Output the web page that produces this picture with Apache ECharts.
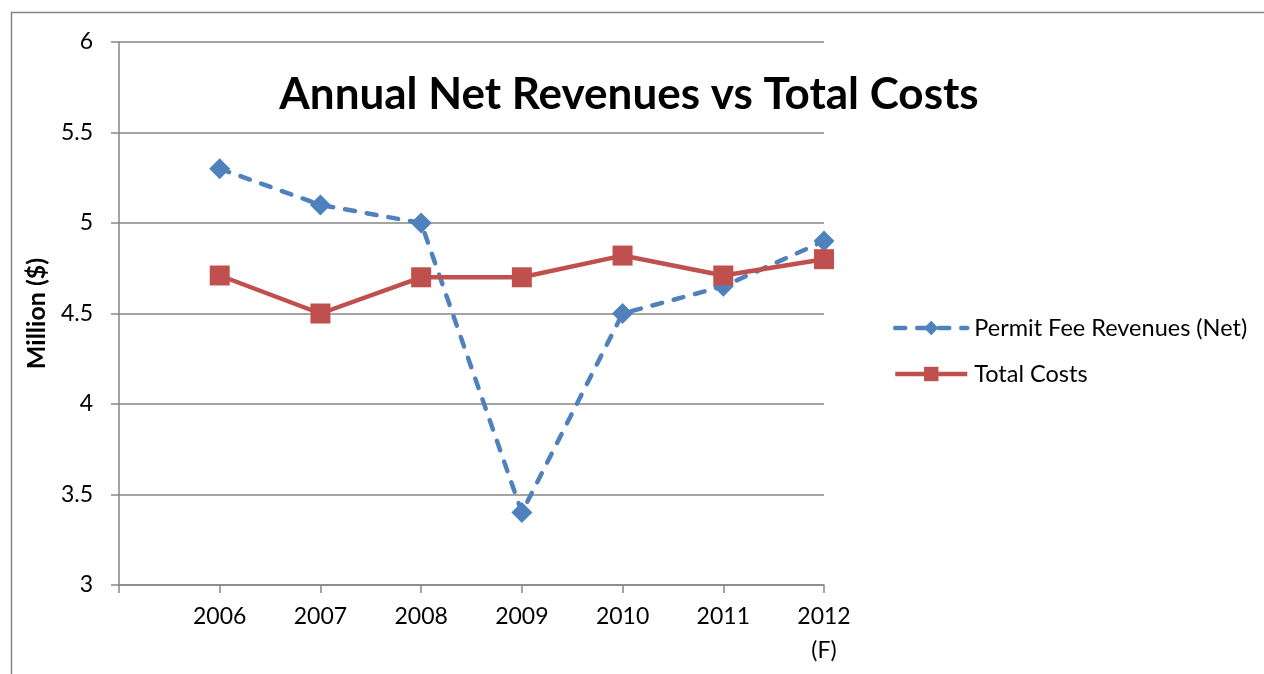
<!DOCTYPE html>
<html><head><meta charset="utf-8">
<script src="https://cdn.jsdelivr.net/npm/echarts@6/dist/echarts.min.js"></script>
<style>html,body{margin:0;padding:0;background:#fff}#c{width:1264px;height:674px}</style>
</head><body><div id="c"></div>
<script>
const categories = ['', '2006', '2007', '2008', '2009', '2010', '2011', '2012\n(F)'];
const permitFeeRevenues = [null, 5.3, 5.1, 5.0, 3.4, 4.5, 4.65, 4.9];
const totalCosts = [null, 4.71, 4.5, 4.7, 4.7, 4.82, 4.71, 4.8];
const yTicks = { min: 3, max: 6, interval: 0.5 };

const font = 'Lato, "Open Sans", sans-serif';
const chart = echarts.init(document.getElementById('c'));
chart.setOption({
  animation: false,
  textStyle: { fontFamily: font },
  title: {
    text: 'Annual Net Revenues vs Total Costs',
    left: 624, top: 68, textAlign: 'center',
    textStyle: { fontFamily: font, fontSize: 44, fontWeight: 'bold', color: '#000' }
  },
  graphic: [{
    type: 'rect', silent: true, z: -1,
    shape: { x: 11.5, y: 12.5, width: 1400, height: 800 },
    style: { fill: 'none', stroke: '#868686', lineWidth: 1.5 }
  }],
  legend: {
    orient: 'vertical', left: 888, top: 311, itemGap: 22,
    itemWidth: 72, itemHeight: 18,
    lineStyle: { width: 4.5 },
    textStyle: { fontFamily: font, fontSize: 23.5, color: '#000', padding: [0, 0, 0, 2] },
    data: ['Permit Fee Revenues (Net)', 'Total Costs']
  },
  grid: { left: 119, top: 42, right: 440, bottom: 89, containLabel: false },
  xAxis: {
    type: 'category', data: categories, boundaryGap: false,
    axisLine: { lineStyle: { color: '#868686', width: 1.5 } },
    axisTick: { show: true, interval: 0, length: 8, lineStyle: { color: '#868686', width: 1.5 } },
    axisLabel: { interval: 0, margin: 15, fontSize: 23, color: '#000', lineHeight: 34, fontFamily: font },
    splitLine: { show: false }
  },
  yAxis: {
    type: 'value', min: yTicks.min, max: yTicks.max, interval: yTicks.interval,
    name: 'Million ($)', nameLocation: 'middle', nameGap: 70, nameRotate: 90,
    nameTextStyle: { fontSize: 25, fontWeight: 'bold', color: '#000', fontFamily: font },
    axisLine: { show: true, lineStyle: { color: '#868686', width: 1.5 } },
    axisTick: { show: true, length: 8, lineStyle: { color: '#868686', width: 1.5 } },
    axisLabel: { margin: 26, fontSize: 23, color: '#000', fontFamily: font },
    splitLine: { lineStyle: { color: '#868686', width: 1.5 } }
  },
  series: [
    {
      name: 'Permit Fee Revenues (Net)', type: 'line', data: permitFeeRevenues,
      symbol: 'diamond', symbolSize: 21, connectNulls: false,
      lineStyle: { color: '#4F81BD', width: 4.5, type: [10, 12], cap: 'round' },
      itemStyle: { color: '#4F81BD' }
    },
    {
      name: 'Total Costs', type: 'line', data: totalCosts,
      symbol: 'rect', symbolSize: 20, connectNulls: false,
      lineStyle: { color: '#C0504D', width: 4.5 },
      itemStyle: { color: '#C0504D' }
    }
  ]
});
</script></body></html>
